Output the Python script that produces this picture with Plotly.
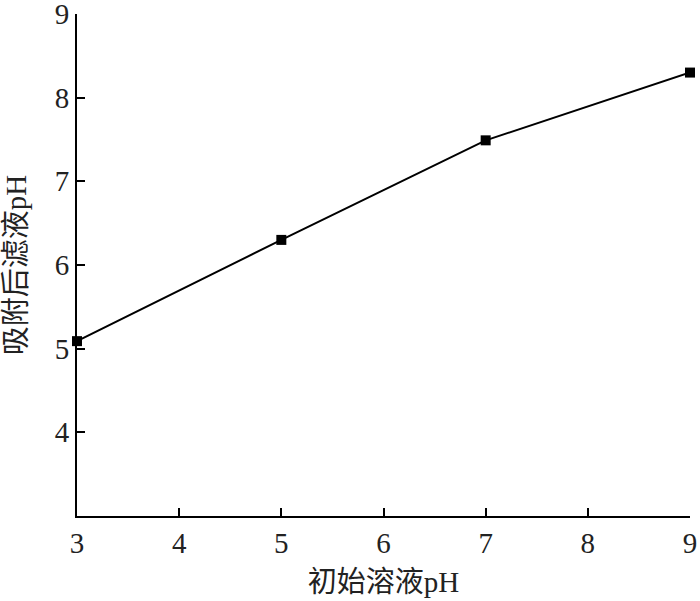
import plotly.graph_objects as go

# data
initial_ph = [3, 5, 7, 9]
filtrate_ph = [5.09, 6.30, 7.49, 8.30]

x_ticks = [3, 4, 5, 6, 7, 8, 9]
y_ticks = [4, 5, 6, 7, 8, 9]

FONT = "Liberation Serif, Noto Sans CJK SC, serif"

fig = go.Figure()

fig.add_trace(go.Scatter(
    x=initial_ph,
    y=filtrate_ph,
    mode="lines+markers",
    line=dict(color="black", width=2),
    marker=dict(symbol="square", size=10, color="black"),
    showlegend=False,
    cliponaxis=False,
))

axis_common = dict(
    showline=True,
    linecolor="black",
    linewidth=2,
    ticks="inside",
    ticklen=8,
    tickwidth=2,
    tickcolor="black",
    showgrid=False,
    zeroline=False,
    mirror=False,
    automargin=False,
    ticklabeloverflow="allow",
    tickfont=dict(family=FONT, size=29, color="#222"),
)

fig.update_layout(
    width=700,
    height=601,
    paper_bgcolor="white",
    plot_bgcolor="white",
    margin=dict(l=77, r=10, t=14, b=85),
    font=dict(family=FONT, color="#222"),
    xaxis=dict(
        range=[3, 9],
        tickvals=x_ticks,
        title=dict(text="初始溶液pH", font=dict(family=FONT, size=29), standoff=14),
        **axis_common,
    ),
    yaxis=dict(
        range=[3, 9],
        tickvals=y_ticks,
        title=dict(text="吸附后滤液pH", font=dict(family=FONT, size=29), standoff=36),
        **axis_common,
    ),
)

# drop the default 8px body margin so the figure fills the window
fig.write_html(
    "out.html",
    config={"displayModeBar": False},
    post_script="document.body.style.margin='0';",
)
